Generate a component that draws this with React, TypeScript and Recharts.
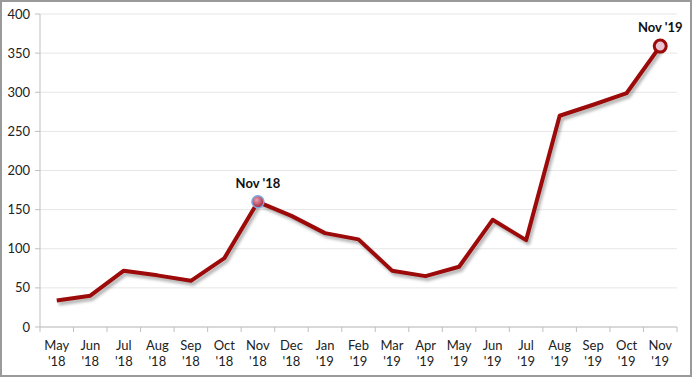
import React from "react"
import { LineChart, Line, XAxis, YAxis, CartesianGrid } from "recharts"

const months = ["May", "Jun", "Jul", "Aug", "Sep", "Oct", "Nov", "Dec", "Jan", "Feb", "Mar", "Apr", "May", "Jun", "Jul", "Aug", "Sep", "Oct", "Nov"]
const years = ["'18", "'18", "'18", "'18", "'18", "'18", "'18", "'18", "'19", "'19", "'19", "'19", "'19", "'19", "'19", "'19", "'19", "'19", "'19"]
const values = [34, 40, 72, 66, 59, 88, 160, 142, 120, 112, 72, 65, 77, 137, 111, 270, 284, 299, 359]
const yTicks = [0, 50, 100, 150, 200, 250, 300, 350, 400]
const highlighted = [6, 18]

const data = values.map((v, i) => ({ key: `${months[i]} ${years[i]}`, month: months[i], year: years[i], value: v }))

const FONT = "Lato, 'Open Sans', sans-serif"
const W = 688
const H = 373
const M = { top: 12, right: 13, bottom: 0, left: 0 }
const Y_W = 38
const BW = (W - M.right - Y_W) / values.length

function MonthTick(props: any) {
  const { x, y, index } = props
  const d = data[index] || { month: "", year: "" }
  return (
    <g>
      <line x1={x - BW / 2} x2={x - BW / 2} y1={y} y2={y + 5} stroke="#bfbfbf" />
      {index === values.length - 1 && (
        <line x1={x + BW / 2} x2={x + BW / 2} y1={y} y2={y + 5} stroke="#bfbfbf" />
      )}
      <text x={x} y={y + 23} textAnchor="middle" fontSize={13} fill="#222" fontFamily={FONT}>{d.month}</text>
      <text x={x} y={y + 39} textAnchor="middle" fontSize={13} fill="#222" fontFamily={FONT}>{d.year}</text>
    </g>
  )
}

function MarkDot(props: any) {
  const { cx, cy, index } = props
  if (!highlighted.includes(index)) return <g key={`d${index}`} />
  const label = data[index].key
  if (index === 6) {
    return (
      <g key={`d${index}`}>
        <defs>
          <radialGradient id="dotA" cx="40%" cy="35%" r="70%">
            <stop offset="0%" stopColor="#e8a0b0" />
            <stop offset="100%" stopColor="#a01830" />
          </radialGradient>
        </defs>
        <circle cx={cx} cy={cy} r={6} fill="url(#dotA)" stroke="#7fa8e0" strokeWidth={1.5} />
        <text x={cx} y={cy - 14} textAnchor="middle" fontSize={13} fontWeight="bold" fill="#111" fontFamily={FONT}>{label}</text>
      </g>
    )
  }
  return (
    <g key={`d${index}`}>
      <circle cx={cx} cy={cy} r={6} fill="#e8c4d2" stroke="#9c0a0a" strokeWidth={3} />
      <text x={cx} y={cy - 14} textAnchor="middle" fontSize={13} fontWeight="bold" fill="#111" fontFamily={FONT}>{label}</text>
    </g>
  )
}

export default function App() {
  return (
    <div style={{ position: "absolute", left: 0, top: 0, width: 692, height: 377, boxSizing: "border-box", border: "2px solid #9a9a9a", background: "#fff" }}>
      <style>{`.recharts-line-curve { filter: drop-shadow(2px 3px 1.5px rgba(0,0,0,0.3)); }`}</style>
      <LineChart width={W} height={H} data={data} margin={M}>
        <CartesianGrid vertical={false} stroke="#e6e6e6" />
        <XAxis
          dataKey="key"
          interval={0}
          height={48}
          tickSize={0}
          tickMargin={0}
          padding={{ left: BW / 2, right: BW / 2 }}
          stroke="#bfbfbf"
          tick={<MonthTick />}
        />
        <YAxis
          width={Y_W}
          domain={[0, 400]}
          ticks={yTicks}
          interval={0}
          stroke="#bfbfbf"
          tickSize={5}
          tickMargin={5}
          tick={{ fill: "#222", fontSize: 13, fontFamily: FONT }}
        />
        <Line
          type="linear"
          dataKey="value"
          stroke="#9c0a0a"
          strokeWidth={4}
          strokeLinejoin="round"
          dot={MarkDot}
          activeDot={false}
          isAnimationActive={false}
        />
      </LineChart>
    </div>
  )
}
